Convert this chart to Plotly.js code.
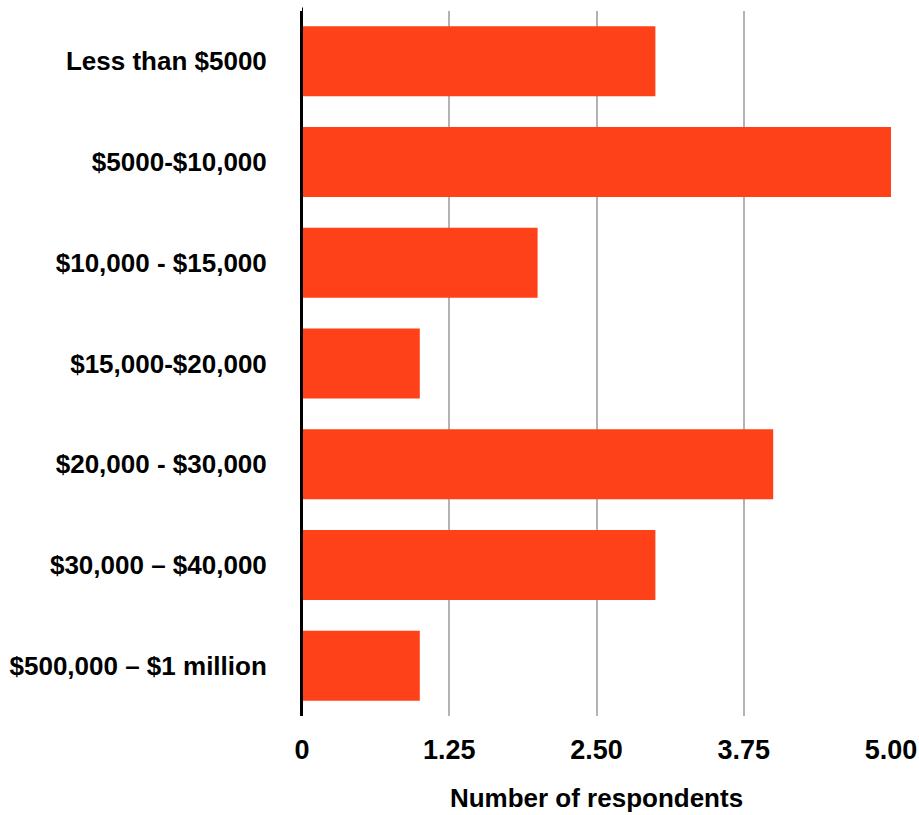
<!DOCTYPE html>
<html><head><meta charset="utf-8">
<script src="https://cdn.plot.ly/plotly-3.0.1.min.js"></script>
<style>html,body{margin:0;padding:0;background:#fff}#chart{width:919px;height:815px}</style>
</head><body><div id="chart"></div>
<script>
const categories = ["Less than $5000","$5000-$10,000","$10,000 - $15,000","$15,000-$20,000","$20,000 - $30,000","$30,000 – $40,000","$500,000 – $1 million"];
const respondents = [3,5,2,1,4,3,1];
const xTickVals = [0,1.25,2.5,3.75,5];
const xTickText = ["0","1.25","2.50","3.75","5.00"];
const FONT = "Liberation Sans, Arial, sans-serif";
Plotly.newPlot("chart",[{
  type:"bar", orientation:"h", x:respondents, y:categories,
  marker:{color:"#FF4119"}, hoverinfo:"none"
}],{
  width:919,height:815,
  margin:{l:302,r:28,t:11,b:99},
  paper_bgcolor:"#fff",plot_bgcolor:"#fff",
  bargap:0.305,
  showlegend:false,
  font:{family:FONT,color:"#000",weight:700},
  xaxis:{range:[0,5],tickvals:xTickVals,ticktext:xTickText,showgrid:true,gridcolor:"#b3b3b3",gridwidth:2,
    zeroline:false,showline:false,ticks:"outside",ticklen:10,tickcolor:"rgba(0,0,0,0)",
    tickfont:{size:27,family:FONT,weight:700},
    title:{text:"Number of respondents",font:{size:26,family:FONT,weight:700},standoff:24}},
  yaxis:{autorange:"reversed",showline:true,linecolor:"#000",linewidth:2,showgrid:false,zeroline:false,
    ticks:"outside",ticklen:28,tickcolor:"rgba(0,0,0,0)",tickfont:{size:26,family:FONT,weight:700}},
  shapes:[{type:"line",xref:"x",yref:"paper",x0:0,x1:0,y0:0,y1:1.005,line:{color:"#000",width:2}}]
},{displayModeBar:false,staticPlot:true});
</script></body></html>
